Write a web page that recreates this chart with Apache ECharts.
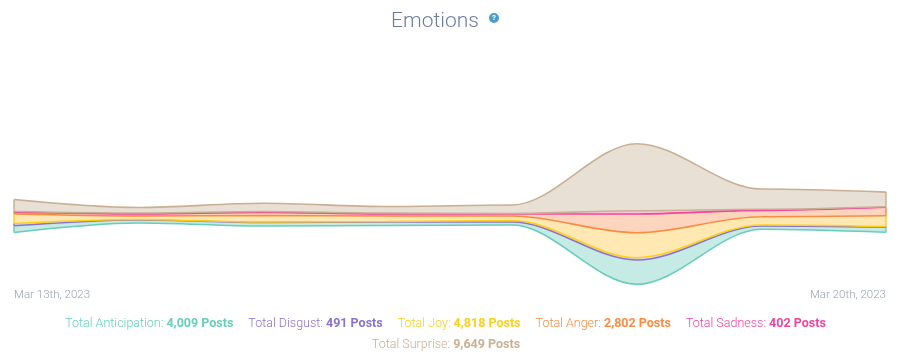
<!DOCTYPE html>
<html><head><meta charset="utf-8">
<style>html,body{margin:0;padding:0;background:#fff}#c{width:900px;height:364px}</style>
<script src="https://cdn.jsdelivr.net/npm/echarts@6/dist/echarts.min.js"></script>
</head><body><div id="c"></div>
<script>
var dates = ['Mar 13th, 2023','Mar 14th, 2023','Mar 15th, 2023','Mar 16th, 2023','Mar 17th, 2023','Mar 18th, 2023','Mar 19th, 2023','Mar 20th, 2023'];
var streamOffset = [3611,4253,4050,4084,4118,115,3827,3625];
var anticipation = [459,203,236,236,203,1640,223,338];
var disgust = [149,34,34,34,101,155,68,54];
var joy = [641,236,439,371,304,1688,560,729];
var anger = [129,142,210,142,129,1262,430,571];
var sadness = [40,60,60,60,40,223,70,30];
var surprise = [810,371,554,439,574,4523,1370,992];
var names = ['Anticipation','Disgust','Joy','Anger','Sadness','Surprise'];
var totals = ['4,009','491','4,818','2,802','402','9,649'];
var strokes = ['#68cdba','#8a72d1','#fdd017','#fb8b40','#f5429b','#c9af93'];
var fills = ['#c5ebe4','#ddd5f2','#ffe8b2','#fdd5be','#fcc6e0','#e8e0d4'];
var lights = ['#68cdba','#8a72d1','#fdd017','#fb8b40','#f5429b','#c9af93'];
var bands = [anticipation,disgust,joy,anger,sadness,surprise];
var smoothing = 0.33;

var chart = echarts.init(document.getElementById('c'));
var cum = streamOffset.slice();
var last = dates.length-1;
function edges(lo,hi,color){
  return {silent:true,symbol:'none',animation:false,label:{show:false},
    lineStyle:{color:color,width:1.6,type:'solid',opacity:0.9},
    data:[[{coord:[dates[0],lo[0]]},{coord:[dates[0],hi[0]]}],
          [{coord:[dates[last],lo[last]]},{coord:[dates[last],hi[last]]}]]};
}
var series = [{name:'base',type:'line',stack:'s',data:streamOffset,smooth:smoothing,smoothMonotone:'x',showSymbol:false,
  lineStyle:{color:strokes[0],width:1.6},silent:true}];
bands.forEach(function(b,i){
  var lo = cum.slice();
  cum = cum.map(function(v,j){return v+b[j];});
  series.push({name:names[i],type:'line',stack:'s',data:b,smooth:smoothing,smoothMonotone:'x',showSymbol:false,silent:true,
    areaStyle:{color:fills[i],opacity:1},
    lineStyle:{color:strokes[Math.min(i+1,5)],width:1.6},
    markLine:edges(lo,cum.slice(),strokes[i])});
});
var rich = {gap:{width:15}};
names.forEach(function(n,i){
  rich['l'+i]={fontFamily:'Roboto',fontWeight:300,fontSize:12.5,color:lights[i]};
  rich['v'+i]={fontFamily:'Roboto',fontWeight:700,fontSize:12.5,color:strokes[i]};
});
function row(ids){
  return ids.map(function(i){return '{l'+i+'|Total '+names[i]+': }{v'+i+'|'+totals[i]+' Posts}';}).join('{gap| }');
}
chart.setOption({
  animation:false,
  title:[
    {text:'Emotions',left:430,top:6,textAlign:'center',textStyle:{fontFamily:'Roboto',fontWeight:300,fontSize:21,color:'#6c7ba0'}},
    {text:row([0,1,2,3,4]),left:440.5,top:312,textAlign:'center',textStyle:{rich:rich,fontSize:12.5}},
    {text:row([5]),left:441,top:333,textAlign:'center',textStyle:{rich:rich,fontSize:12.5}}
  ],
  graphic:[
    {type:'circle',shape:{cx:494,cy:18,r:5},style:{fill:'#4a9fca'}},
    {type:'text',x:494,y:18,style:{text:'?',fill:'#fff',font:'bold 8px Roboto',textAlign:'center',textVerticalAlign:'middle'}}
  ],
  grid:{left:14,right:14,top:130,bottom:78},
  xAxis:{type:'category',data:dates,boundaryGap:false,axisLine:{show:false},axisTick:{show:false},splitLine:{show:false},
    axisLabel:{margin:3,fontFamily:'Roboto',fontWeight:300,fontSize:11.5,color:'#98a2b3',alignMinLabel:'left',alignMaxLabel:'right',
      interval:function(i){return i===0||i===last;}}},
  yAxis:{type:'value',min:0,max:10530,show:false,splitLine:{show:false}},
  series:series
});
</script></body></html>
